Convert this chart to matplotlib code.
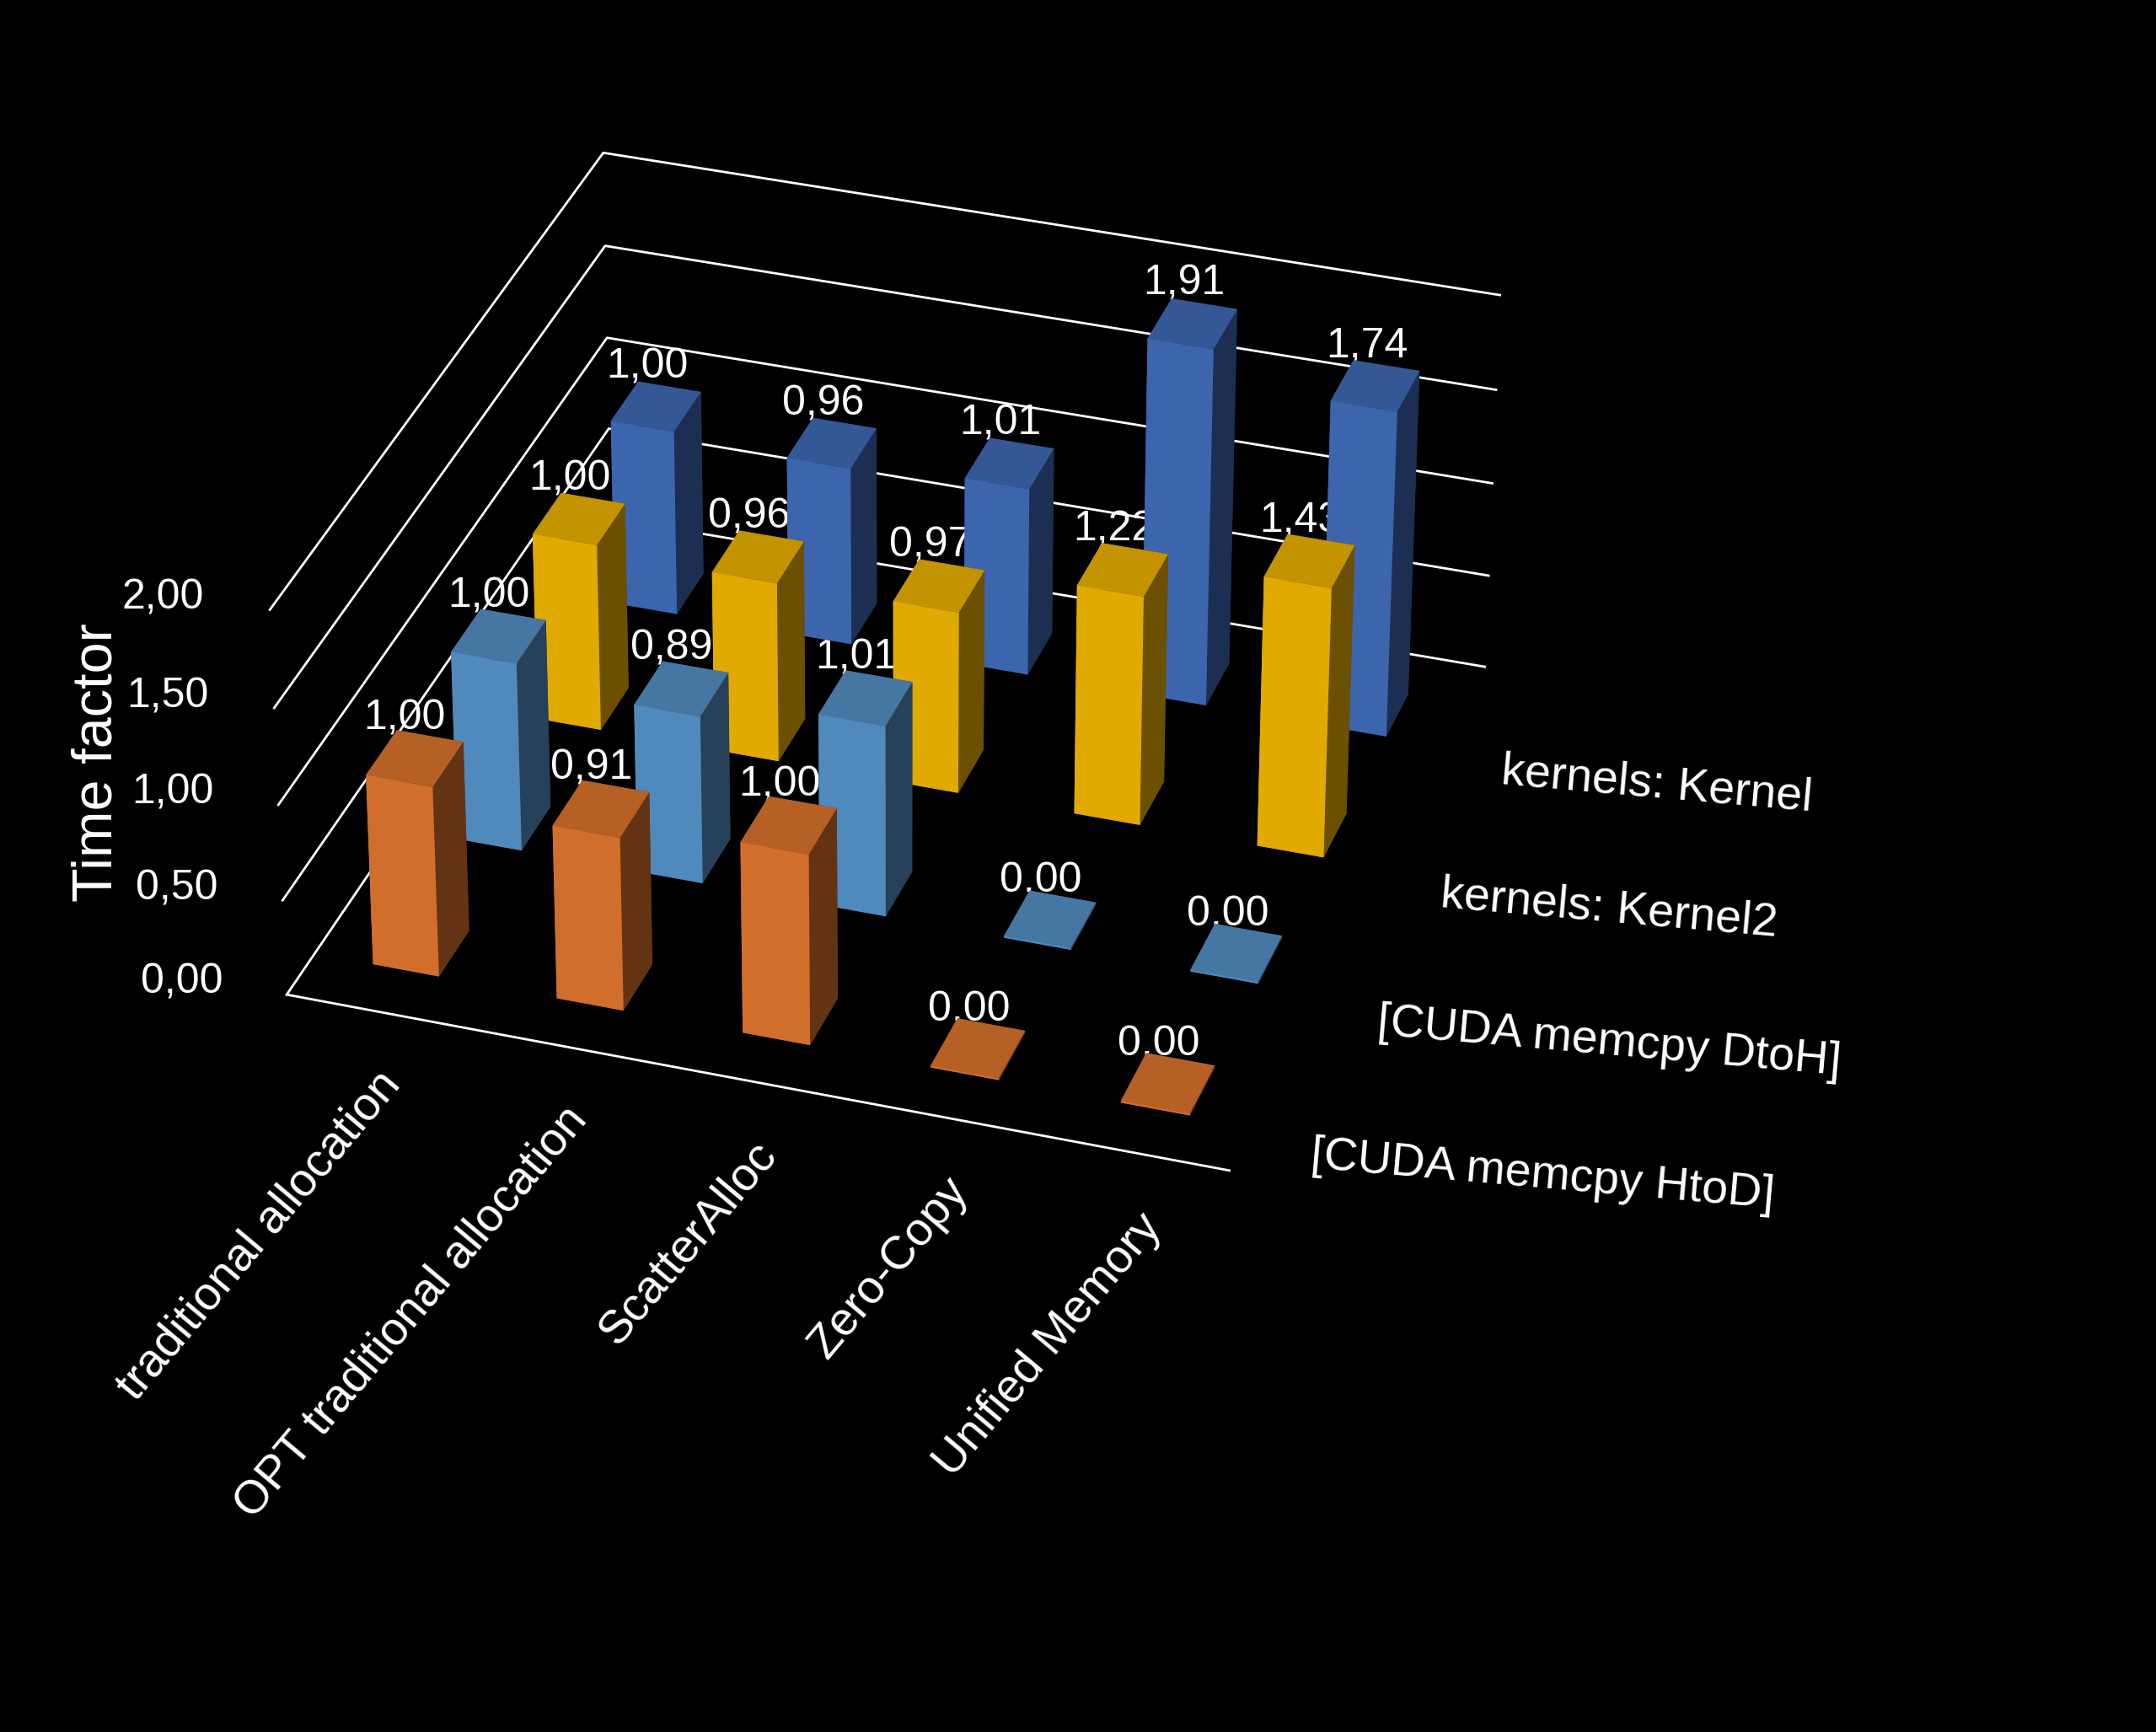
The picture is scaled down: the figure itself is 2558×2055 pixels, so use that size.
import matplotlib
matplotlib.use('Agg')
import matplotlib.pyplot as plt
from mpl_toolkits.mplot3d import proj3d
import numpy as np

categories = ['traditional allocation', 'OPT traditional allocation', 'ScatterAlloc',
              'Zero-Copy', 'Unified Memory']
series = ['[CUDA memcpy HtoD]', '[CUDA memcpy DtoH]', 'kernels: Kernel2', 'kernels: Kernel']
values = [
    [1.00, 0.91, 1.00, 0.00, 0.00],
    [1.00, 0.89, 1.01, 0.00, 0.00],
    [1.00, 0.96, 0.97, 1.22, 1.43],
    [1.00, 0.96, 1.01, 1.91, 1.74],
]
colors = ['#ED7D31', '#5B9BD5', '#FFC000', '#4472C4']
zticks = [0.0, 0.5, 1.0, 1.5, 2.0]

fig = plt.figure(figsize=(12.79, 10.275), dpi=200, facecolor='black')
ax = fig.add_axes([0.08, 0.22, 0.66, 0.8], projection='3d', facecolor='black')
ax.set_proj_type('persp', focal_length=1.2)
ax.view_init(elev=32, azim=-72)
ax.set_axis_off()

nx, ny = len(categories), len(series)
x0, x1, y0, y1 = -0.5, nx - 0.5, -0.5, ny - 0.5
ax.set_xlim(x0, x1); ax.set_ylim(y0, y1); ax.set_zlim(0, 2.0)
ax.set_box_aspect((nx * 1.3, ny * 1.6, 3.0))

# walls and grid
for z in zticks:
    ax.plot([x0, x0, x1], [y0, y1, y1], [z, z, z], color='white', lw=1.0)
ax.plot([x0, x1], [y0, y0], [0, 0], color='white', lw=1.0)

w = 0.36
for j in range(ny):
    for i in range(nx):
        v = values[j][i]
        dz = v if v > 0 else 0.01
        ax.bar3d(i - w / 2, j - w / 2, 0, w, w, dz, color=colors[j], shade=True,
                 edgecolor='none')

fig.canvas.draw()
M = ax.get_proj()


def txt(x, y, z, s, **kw):
    px, py, _ = proj3d.proj_transform(x, y, z, M)
    ax.text2D(px, py, s, transform=ax.transData, color='white',
              family='Liberation Sans', **kw)


for j in range(ny):
    for i in range(nx):
        v = values[j][i]
        txt(i - 0.05, j, v + 0.1, f'{v:.2f}'.replace('.', ','), fontsize=18,
            ha='center', va='bottom')

for z in zticks:
    txt(x0 - 0.35, y0, z, f'{z:.2f}'.replace('.', ','), fontsize=18,
        ha='right', va='center')
fig.text(0.045, 0.56, 'Time factor', color='white', fontsize=24, rotation=90,
         ha='center', va='center', family='Liberation Sans')

for i, c in enumerate(categories):
    txt(i + 0.15, y0 - 0.35, 0, c, fontsize=20, rotation=50,
        ha='right', va='top', rotation_mode='anchor')
for j, s in enumerate(series):
    txt(x1 + 0.35, j - 0.3, 0, s, fontsize=20, ha='left', va='center', rotation=-5,
        rotation_mode='anchor')

fig.savefig('out.png', dpi=200, facecolor='black')
